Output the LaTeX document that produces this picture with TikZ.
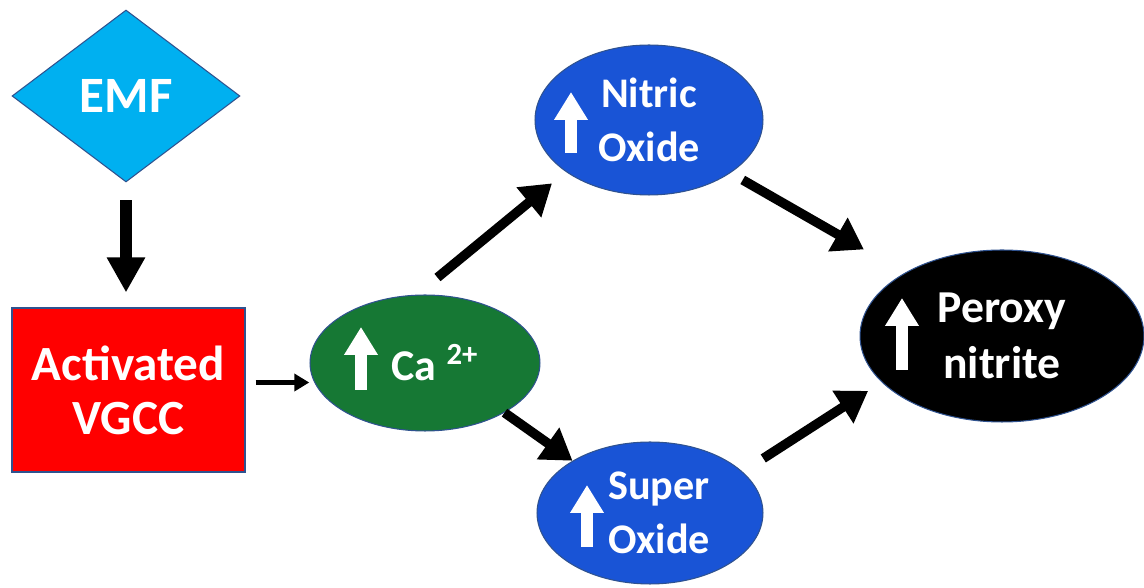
\documentclass[tikz,border=0pt]{standalone}
\usepackage{fontspec}
\setmainfont{Carlito}
\usetikzlibrary{arrows.meta}
\usetikzlibrary{shapes.geometric, positioning}
\definecolor{mycyan}{RGB}{0,176,240}
\definecolor{myred}{RGB}{255,0,0}
\definecolor{mygreen}{RGB}{22,120,52}
\definecolor{myblue}{RGB}{25,84,214}
\definecolor{myedge}{RGB}{47,82,143}
\tikzset{
  node/.style={text=white,align=center,inner sep=0,draw=myedge,line width=0.6pt},
  node emf/.style={node,diamond,fill=mycyan,minimum width=4.56cm,minimum height=3.44cm,
    font=\bfseries\fontsize{29}{33}\selectfont},
  node gate/.style={node,rectangle,fill=myred,minimum width=4.66cm,minimum height=3.28cm,
    font=\bfseries\fontsize{28}{30.6}\selectfont},
  node ion/.style={node,ellipse,fill=mygreen,minimum width=4.6cm,minimum height=2.72cm,
    font=\bfseries\fontsize{25}{30}\selectfont},
  node ros/.style={node,ellipse,fill=myblue,font=\bfseries\fontsize{24}{30.6}\selectfont},
  node out/.style={node,ellipse,fill=black,minimum width=5.68cm,minimum height=3.44cm,
    font=\bfseries\fontsize{26}{31.5}\selectfont},
  connect/.style={black,line width=0.19cm,-{Triangle[length=0.6cm,width=0.74cm]}},
  connect big/.style={black,line width=0.25cm,-{Triangle[length=0.7cm,width=0.72cm]}},
  connect small/.style={black,line width=0.1cm,-{Triangle[length=0.3cm,width=0.34cm]}},
  up mark/.style={white,line width=0.24cm,-{Triangle[length=0.56cm,width=0.64cm]}}
}
\begin{document}
\begin{tikzpicture}[x=0.02cm,y=0.02cm]
  \useasboundingbox (0,0) rectangle (1144,588);

  % --- SOURCE ---
  \node[node emf] (emf) at (126,492) {EMF};
  \node[node gate] (vgcc) at (128.5,198) {Activated\\VGCC};

  % --- CALCIUM ---
  \node[node ion] (ca) at (425,225) {\hspace*{0.4cm}Ca \textsuperscript{2+}};

  % --- PRODUCTS ---
  \node[node ros, minimum width=4.56cm, minimum height=3.0cm] (no) at (649,468) {Nitric\\Oxide};
  \node[node ros, minimum width=4.52cm, minimum height=2.84cm] (so) at (650,75)
    {\hspace*{0.36cm}Super\\\hspace*{0.36cm}Oxide};
  \node[node out] (onoo) at (1002,252) {Peroxy\\nitrite};

  % increase marks
  \draw[up mark] ([shift={(-64,-27)}]ca.center) -- ++(0,63);
  \draw[up mark] ([shift={(-78,-33)}]no.center) -- ++(0,61);
  \draw[up mark] ([shift={(-63,-34)}]so.center) -- ++(0,62);
  \draw[up mark] ([shift={(-100,-34)}]onoo.center) -- ++(0,72);

  % --- CONNECTIONS ---
  \draw[connect big, shorten <=0.36cm, shorten >=0.3cm] (emf.south) -- (emf.south |- vgcc.north);
  \draw[connect small, shorten <=0.2cm, shorten >=0.1cm] (vgcc.east |- ca.190) -- (ca.190);
  \draw[connect, shorten <=0.54cm, shorten >=0.36cm] (ca.97) -- (no.212);
  \draw[connect] (ca.-32) -- (so.146);
  \draw[connect, shorten <=0.28cm, shorten >=0.94cm] (no.-33) -- (onoo.147);
  \draw[connect, shorten <=0.49cm, shorten >=0.32cm] (so.24) -- (onoo.201);

\end{tikzpicture}
\end{document}
